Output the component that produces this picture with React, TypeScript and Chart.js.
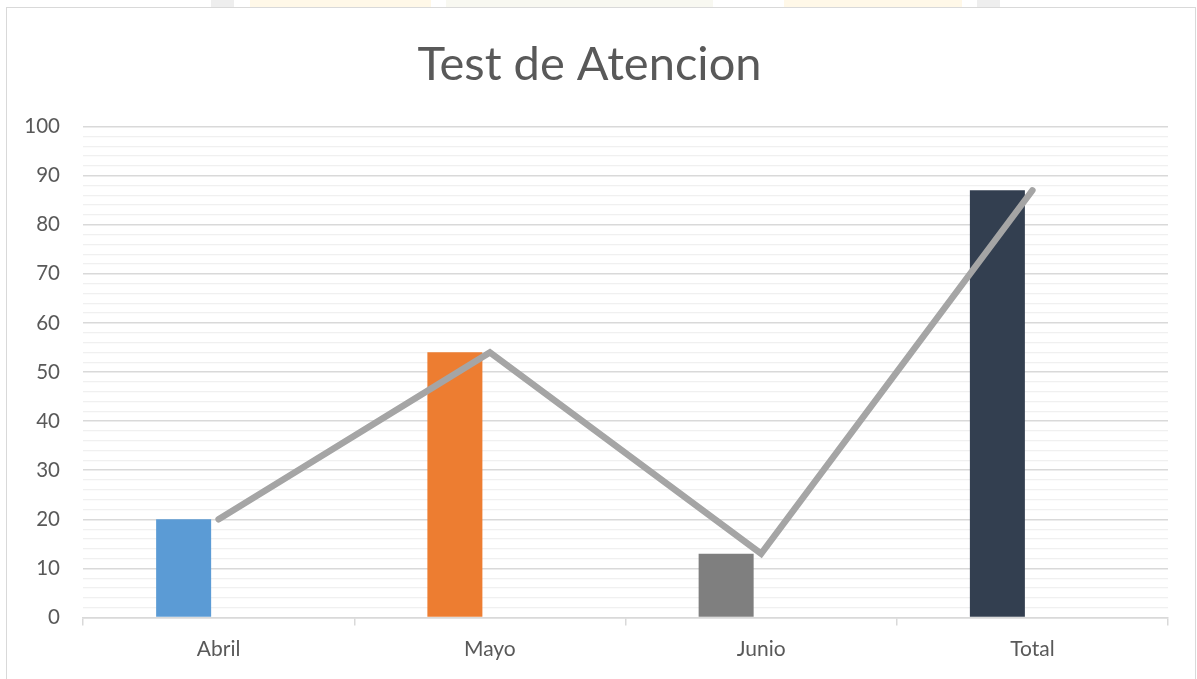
import React, { useEffect, useRef } from "react";
import { Chart, registerables } from "chart.js";

Chart.register(...registerables);

const categories = ["Abril", "Mayo", "Junio", "Total"];
const values = [20, 54, 13, 87];
const barColors = ["#5b9bd5", "#ed7d31", "#7f7f7f", "#333f50"];
const lineColor = "#a5a5a5";
const titleText = "Test de Atencion";
const yMin = 0;
const yMax = 100;
const yStep = 2;
const yLabelStep = 10;

const FONT = "Lato, 'Open Sans', sans-serif";
const W = 1197;
const H = 679;

const titlePlugin = {
  id: "centeredTitle",
  afterDraw(chart: any) {
    const ctx = chart.ctx;
    ctx.save();
    ctx.font = `normal 47px ${FONT}`;
    ctx.fillStyle = "#595959";
    ctx.textAlign = "center";
    ctx.textBaseline = "alphabetic";
    ctx.fillText(titleText, 589.5, 80);
    ctx.restore();
  },
};

export default function App() {
  const ref = useRef<HTMLCanvasElement | null>(null);

  useEffect(() => {
    if (!ref.current) return;
    const chart = new Chart(ref.current, {
      type: "bar",
      data: {
        labels: categories,
        datasets: [
          {
            type: "line",
            label: "line",
            data: values,
            borderColor: lineColor,
            borderWidth: 6.5,
            pointRadius: 0,
            tension: 0,
            borderCapStyle: "round",
            borderJoinStyle: "miter",
            order: 0,
          } as any,
          {
            type: "bar",
            label: "bars",
            data: values,
            backgroundColor: barColors,
            borderWidth: 0,
            categoryPercentage: 0.516,
            barPercentage: 0.786,
            order: 1,
          },
          {
            type: "bar",
            label: "empty",
            data: values.map(() => null),
            backgroundColor: "rgba(0,0,0,0)",
            categoryPercentage: 0.516,
            barPercentage: 0.786,
            order: 2,
          },
        ],
      },
      plugins: [titlePlugin],
      options: {
        animation: false,
        responsive: false,
        maintainAspectRatio: false,
        layout: { padding: { left: 0, right: 29, top: 126.5, bottom: 0 } },
        plugins: {
          legend: { display: false },
          tooltip: { enabled: false },
          title: { display: false },
        },
        scales: {
          x: {
            offset: true,
            grid: {
              display: true,
              drawOnChartArea: false,
              drawTicks: true,
              tickLength: 8,
              color: "#d9d9d9",
              lineWidth: 1.5,
              offset: true,
            },
            border: { display: true, color: "#d9d9d9", width: 1.5 },
            ticks: {
              color: "#595959",
              font: { family: FONT, size: 21 },
              padding: 11,
            },
            afterFit: (s: any) => {
              s.height = 61.5;
            },
          },
          y: {
            min: yMin,
            max: yMax,
            border: { display: false },
            grid: {
              drawTicks: false,
              color: (ctx: any) =>
                ctx.tick && ctx.tick.value % yLabelStep === 0 ? "#d9d9d9" : "#f0f0f0",
              lineWidth: (ctx: any) =>
                ctx.tick && ctx.tick.value % yLabelStep === 0 ? 1.5 : 1.2,
            },
            ticks: {
              stepSize: yStep,
              autoSkip: false,
              color: "#595959",
              font: { family: FONT, size: 20.5 },
              padding: 23,
              callback: (v: any) => (Number(v) % yLabelStep === 0 ? String(v) : ""),
            },
            afterFit: (s: any) => {
              s.width = 83;
            },
          },
        },
      },
    });
    return () => chart.destroy();
  }, []);

  return (
    <div
      style={{
        position: "fixed",
        left: 0,
        top: 0,
        width: W,
        height: H,
        background: "#ffffff",
        overflow: "hidden",
      }}
    >
      <div style={{ position: "absolute", left: 211, top: 0, width: 23, height: 7, background: "#eeeeee" }} />
      <div style={{ position: "absolute", left: 250, top: 0, width: 181, height: 7, background: "#fff8e8" }} />
      <div style={{ position: "absolute", left: 446, top: 0, width: 267, height: 7, background: "#f8f8f1" }} />
      <div style={{ position: "absolute", left: 784, top: 0, width: 178, height: 7, background: "#fff8e8" }} />
      <div style={{ position: "absolute", left: 977, top: 0, width: 23, height: 7, background: "#eeeeee" }} />
      <canvas ref={ref} width={W} height={H} style={{ position: "absolute", left: 0, top: 0, width: W, height: H }} />
      <div
        style={{
          position: "absolute",
          left: 6,
          top: 7,
          width: 1190,
          height: 700,
          border: "1.5px solid #d9d9d9",
          boxSizing: "border-box",
          pointerEvents: "none",
        }}
      />
    </div>
  );
}
